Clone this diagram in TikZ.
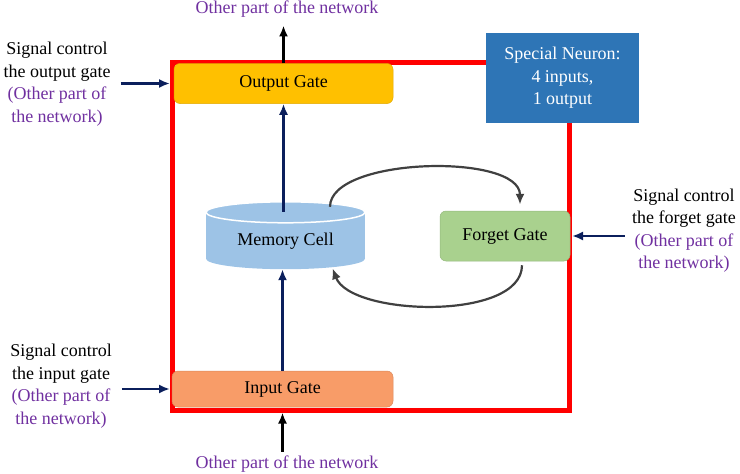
\documentclass[tikz,border=0pt]{standalone}
\usepackage{fontspec}
\setmainfont{Liberation Serif}
\usetikzlibrary{positioning,arrows.meta,backgrounds}
\definecolor{gateyellow}{HTML}{FFC000}
\definecolor{gateorange}{HTML}{F89C68}
\definecolor{gategreen}{HTML}{A9D18E}
\definecolor{cellblue}{HTML}{9DC3E6}
\definecolor{neuronblue}{HTML}{2E75B6}
\definecolor{netpurple}{HTML}{7030A0}
\definecolor{signavy}{HTML}{0B1F5C}
\definecolor{loopgray}{HTML}{404040}
\tikzset{
  gate/.style={rectangle, rounded corners=6pt, draw=#1!88!black, line width=0.5pt, fill=#1, inner sep=0pt},
  sigarrow/.style={-{Latex[length=11pt,width=9pt]}, signavy, line width=2.2pt},
  netarrow/.style={-{Latex[length=11pt,width=9pt]}, black, line width=2.2pt},
  looparrow/.style={-{Latex[length=11pt,width=9pt]}, loopgray, line width=2.2pt},
  siglabel/.style={align=center, inner sep=0pt}
}

\begin{document}
\begin{tikzpicture}[x=1pt,y=-1pt,font=\fontsize{18}{22.5}\selectfont]
\useasboundingbox (0,0) rectangle (740,474);

% the neuron frame
\node[draw=red, line width=5pt, minimum width=397pt, minimum height=348pt, inner sep=0pt] (frame) at (371,236) {};

\node[gate=gateyellow, minimum width=219pt, minimum height=40pt]	(outgate)	at (283.5,83.5)	{Output Gate};
\node[gate=gateorange, minimum width=221pt, minimum height=36pt]	(ingate)	at (282.5,389)	{Input Gate};
\node[gate=gategreen, minimum width=130pt, minimum height=50pt]	(forget)	at (505,236)	{Forget Gate};
\node[minimum width=159pt, minimum height=67pt, inner sep=0pt]		(memory)	at (285.5,235.5)	{\raisebox{-6pt}[\height][\depth]{Memory Cell}};
\node[fill=neuronblue, text=white, minimum width=153pt, minimum height=90pt, align=center, inner sep=0pt] (special) at (562.5,78) {Special Neuron:\\4 inputs,\\1 output};

% cylinder behind the memory cell text
\begin{scope}[on background layer]
\fill[cellblue] ([yshift=-10.5pt]memory.north west) rectangle ([yshift=10.5pt]memory.south east);
\fill[cellblue] ([yshift=10.5pt]memory.south) ellipse[x radius=79.5pt, y radius=10.5pt];
\filldraw[fill=cellblue, draw=white, line width=1.5pt] ([yshift=-10.5pt]memory.north) ellipse[x radius=79.5pt, y radius=10.5pt];
\end{scope}

% labels
\node[siglabel] (sigout)	at (57,84)		{Signal control\\the output gate\\\textcolor{netpurple}{(Other part of}\\\textcolor{netpurple}{the network)}};
\node[siglabel] (sigin)		at (61,386)		{Signal control\\the input gate\\\textcolor{netpurple}{(Other part of}\\\textcolor{netpurple}{the network)}};
\node[siglabel] (sigforget)	at (684,230.5)	{Signal control\\the forget gate\\\textcolor{netpurple}{(Other part of}\\\textcolor{netpurple}{the network)}};
\node[siglabel, text=netpurple] (topnet) at (287,9)		{Other part of the network};
\node[siglabel, text=netpurple] (botnet) at (287,464)	{Other part of the network};

% connectors
\draw[netarrow, shorten >=8pt]	(outgate.north) -- (outgate.north |- topnet.south);
\draw[netarrow, shorten <=4pt]	(ingate.south |- botnet.north) -- (ingate.south |- frame.south);
\draw[sigarrow]	([xshift=10pt]sigout.east |- outgate.west) -- (frame.west |- outgate.west);
\draw[sigarrow]	([xshift=10pt]sigin.east |- ingate.west) -- (frame.west |- ingate.west);
\draw[sigarrow]	([xshift=-7pt]sigforget.west |- forget.east) -- (frame.east |- forget.east);
\draw[sigarrow]	([yshift=-10pt]memory.north -| outgate.south) -- (outgate.south);
\draw[sigarrow]	(ingate.north) -- (ingate.north |- memory.south);
\draw[looparrow] ([xshift=44.5pt,yshift=-5pt]memory.north) .. controls +(0,-50) and +(0,-52) .. ([xshift=15pt,yshift=6pt]forget.north);
\draw[looparrow] ([xshift=17pt,yshift=-4pt]forget.south) .. controls +(0,56) and +(18,48) .. ([xshift=47pt,yshift=1pt]memory.south);
\end{tikzpicture}
\end{document}
